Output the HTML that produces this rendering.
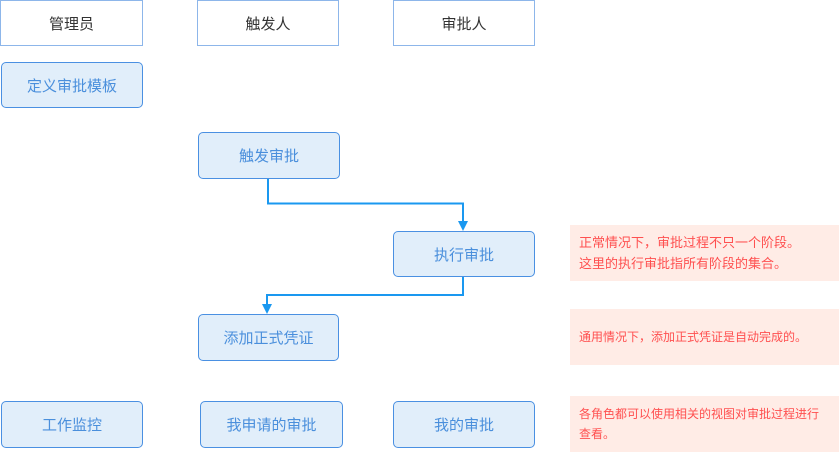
<!DOCTYPE html>
<html><head><meta charset="utf-8"><style>
html,body{margin:0;padding:0;background:#fff;}
body{width:839px;height:452px;position:relative;overflow:hidden;font-family:"Liberation Sans","Noto Sans CJK SC",sans-serif;}
.h{position:absolute;box-sizing:border-box;border:1px solid #8db6ea;background:#fff;color:#333;font-size:15px;display:flex;align-items:center;justify-content:center;}
.n{position:absolute;box-sizing:border-box;border:1px solid #4a90e2;border-radius:5px;background:#e1eefa;color:#4a8fdc;font-size:15px;display:flex;align-items:center;justify-content:center;}
.t{position:absolute;box-sizing:border-box;background:#ffece6;color:#ff5050;font-size:13px;line-height:21px;padding:0 0 0 9px;display:flex;align-items:center;}
svg{position:absolute;left:0;top:0;}
</style></head><body>
<div class="h" style="left:0;top:0;width:143px;height:46px;">管理员</div>
<div class="h" style="left:197px;top:0;width:142px;height:46px;">触发人</div>
<div class="h" style="left:393px;top:0;width:142px;height:46px;">审批人</div>
<div class="n" style="left:1px;top:62px;width:142px;height:46px;">定义审批模板</div>
<div class="n" style="left:198px;top:132px;width:142px;height:47px;">触发审批</div>
<div class="n" style="left:393px;top:231px;width:142px;height:46px;">执行审批</div>
<div class="n" style="left:198px;top:314px;width:141px;height:47px;">添加正式凭证</div>
<div class="n" style="left:1px;top:401px;width:142px;height:47px;">工作监控</div>
<div class="n" style="left:200px;top:401px;width:143px;height:47px;">我申请的审批</div>
<div class="n" style="left:393px;top:401px;width:142px;height:47px;">我的审批</div>
<div class="t" style="left:570px;top:225px;width:269px;height:56px;">正常情况下，审批过程不只一个阶段。<br>这里的执行审批指所有阶段的集合。</div>
<div class="t" style="left:570px;top:309px;width:269px;height:56px;font-size:12px;">通用情况下，添加正式凭证是自动完成的。</div>
<div class="t" style="left:570px;top:396px;width:269px;height:56px;font-size:12px;line-height:20px;">各角色都可以使用相关的视图对审批过程进行<br>查看。</div>
<svg width="839" height="452">
<polyline points="268,179 268,203.5 463,203.5 463,223" fill="none" stroke="#1a98f0" stroke-width="2"/>
<polygon points="458,221 468,221 463,231" fill="#1a98f0"/>
<polyline points="463,277 463,295 267,295 267,306" fill="none" stroke="#1a98f0" stroke-width="2"/>
<polygon points="262,304 272,304 267,314" fill="#1a98f0"/>
</svg>
</body></html>
